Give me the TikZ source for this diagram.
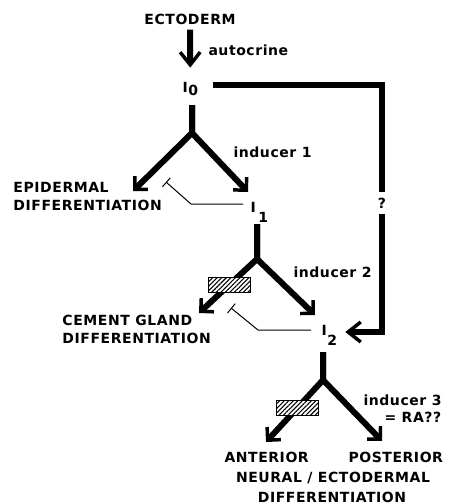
\documentclass[tikz,border=0pt]{standalone}
\usepackage{fontspec}
\setmainfont{DejaVu Sans}[LetterSpace=4]
\usetikzlibrary{arrows.meta,patterns.meta}

\tikzset{every picture/.style={line width=0.75pt}}
\tikzset{
  lbl/.style={inner sep=0.75pt, font=\fontsize{10.5}{13}\selectfont\bfseries},
  stem/.style={line width=4.5pt, line join=miter},
  arm/.style={stem, -{Straight Barb[length=7pt,width=14pt,line width=2.6pt]}},
  bigarm/.style={stem, -{Straight Barb[length=9.5pt,width=15pt,line width=2.6pt]}},
  inhib/.style={line width=0.75pt, -{Bar[width=9pt,line width=0.75pt]}},
  hatchbox/.style={draw, line width=0.75pt, preaction={fill=white},
    pattern={Lines[angle=45,distance=2.4pt,line width=0.8pt]},
    minimum width=31.5pt, minimum height=11.25pt, inner sep=0pt},
}

\begin{document}
\begin{tikzpicture}[x=0.75pt,y=0.75pt,yscale=-1,xscale=1]
\useasboundingbox (0,0) rectangle (454,504);

% Text Node
\node[lbl, anchor=base] (ecto) at (190,24) {ECTODERM};
% Text Node
\node[lbl, anchor=base west] (auto) at (207,55) {autocrine};
% Text Node
\node[lbl, anchor=base west] (I0) at (181,92) {I\kern0.5pt\raisebox{-2.5pt}{0}};
% Text Node
\node[lbl, anchor=base west] (I1) at (249,212) {I\kern2pt\raisebox{-7.5pt}{1}};
% Text Node
\node[lbl, anchor=base west] (I2) at (320,335) {I\kern0.5pt\raisebox{-8pt}{2}};
% Text Node
\node[lbl] (q) at (382,203) {?};

% junctions and free ends
\coordinate (s0) at (192,105);  \coordinate (j0) at (192,133);
\coordinate (e0l) at (133,191); \coordinate (e0r) at (248,192);
\coordinate (s1) at (257,224);  \coordinate (j1) at (257,259);
\coordinate (e1l) at (199,313); \coordinate (e1r) at (315,315);
\coordinate (s2) at (323,352);  \coordinate (j2) at (323,380);
\coordinate (e2l) at (266,442); \coordinate (e2r) at (382,441);

%Straight Lines
\draw[bigarm, shorten <=3pt, shorten >=9.5pt] (ecto.south) -- (I0.north);

%Straight Lines
\draw[arm] (s0) -- (j0) -- (e0l);
\draw[arm] (s0) -- (j0) -- (e0r);
%Straight Lines
\draw[arm] (s1) -- (j1) -- (e1l);
\draw[arm] (s1) -- (j1) -- (e1r);
%Straight Lines
\draw[arm] (s2) -- (j2) -- (e2l);
\draw[arm] (s2) -- (j2) -- (e2r);

%Straight Lines
\draw[stem, shorten >=3pt] (213,85) -- (382,85) -- (q.north);
\coordinate (qb) at (382,332);
\draw[bigarm, shorten <=3pt, shorten >=5pt] (q.south) -- (qb) -- (qb -| I2.east);

%Straight Lines
\draw[inhib] (243,204) -- (191,204) -- (166,182);
\draw[inhib] (311,330) -- (258,330) -- (231,308);

%Shape: Rectangle
\node[hatchbox] (b1) at (229,284.5) {};
\node[hatchbox] (b2) at (297,407.5) {};

% Text Node
\node[lbl, anchor=base west] (ind1) at (232,157) {inducer 1};
% Text Node
\node[lbl, anchor=base west] (ind2) at (292,277) {inducer 2};
% Text Node
\node[lbl, anchor=base west] (ind3) at (362,405) {inducer 3};
% Text Node
\node[lbl, anchor=base west] (ra) at (383,422) {= RA??};
% Text Node
\node[lbl, anchor=north west, align=left] (epi) at (12,181) {EPIDERMAL\\DIFFERENTIATION};
% Text Node
\node[lbl, anchor=north west, align=left] (cem) at (61,314) {CEMENT GLAND\\DIFFERENTIATION};
% Text Node
\node[lbl, anchor=base west] (ant) at (223,462) {ANTERIOR};
% Text Node
\node[lbl, anchor=base west] (post) at (347,462) {POSTERIOR};
% Text Node
\node[lbl, anchor=base] (neur) at (333,482) {NEURAL / ECTODERMAL};
% Text Node
\node[lbl, anchor=base] (diff) at (332,502) {DIFFERENTIATION};

\end{tikzpicture}
\end{document}
